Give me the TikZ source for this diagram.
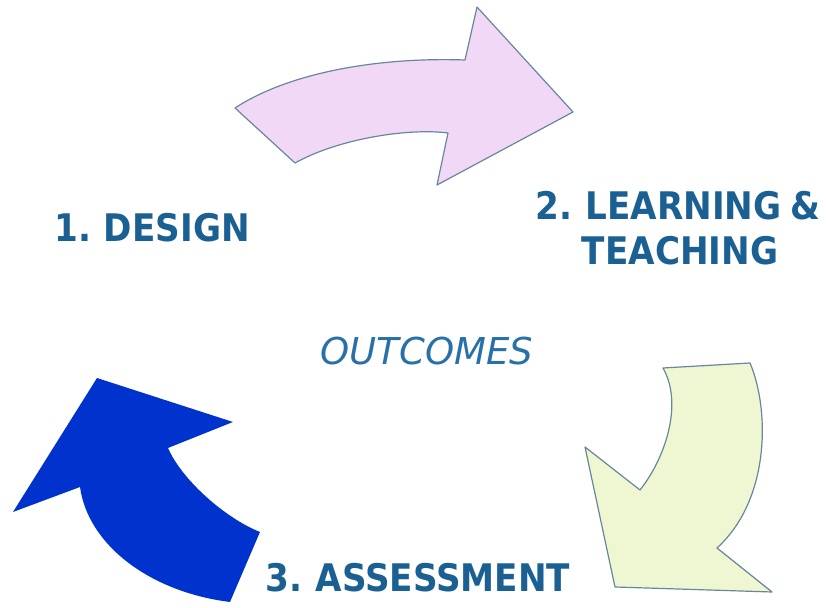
\documentclass[tikz,border=0pt]{standalone}
\usepackage{fontspec}
\setmainfont{DejaVu Sans}[FakeStretch=0.9,WordSpace=0.75]
\newfontfamily\outfont{DejaVu Sans}
\definecolor{steptext}{RGB}{26,96,146}
\definecolor{outtext}{RGB}{40,112,168}
\definecolor{pinkfill}{RGB}{240,216,246}
\definecolor{greenfill}{RGB}{238,247,210}
\definecolor{edgegray}{RGB}{105,135,155}
\definecolor{deepblue}{RGB}{0,50,205}
\begin{document}
\begin{tikzpicture}[x=0.5pt,y=-0.5pt,line width=0.6pt, line join=round, line cap=round,
		steplabel/.style={text=steptext,font=\fontsize{19}{22}\selectfont\bfseries,inner sep=0pt,anchor=base},
		outlabel/.style={text=outtext,font=\outfont\fontsize{18.5}{22}\selectfont\itshape,inner sep=0pt,anchor=base},
		paleshape/.style={draw=edgegray}]
				\useasboundingbox (0,0) rectangle (826,608);
				% arrow 1 -> 2
				\draw[paleshape,fill=pinkfill] (235,108) .. controls (290,72) and (380,57) .. (465,60) -- (477,7) -- (573,112) -- (437,185) -- (448,133) .. controls (410,128) and (340,138) .. (295,163) -- cycle;
				% arrow 2 -> 3
				\draw[paleshape,fill=greenfill] (663,368) -- (750,363) .. controls (770,410) and (770,500) .. (717,548) -- (772,592) -- (615,587) -- (585,447) -- (640,490) .. controls (664,460) and (684,405) .. (663,368) -- cycle;
				% arrow 3 -> 1
				\fill[deepblue] (97,378) -- (233,422) -- (168,448) .. controls (182,480) and (225,518) .. (260,532) -- (230,602) .. controls (150,592) and (88,545) .. (80,487) -- (13,512) -- cycle;
				\node[steplabel] (design) at (152,242) {1. DESIGN};
				\node[steplabel] (learning) at (678,220) {2. LEARNING \&};
				\node[steplabel] (teaching) at (680,265) {TEACHING};
				\node[steplabel] (assessment) at (418,592) {3. ASSESSMENT};
				\node[outlabel] (outcomes) at (427,365) {OUTCOMES};
			\end{tikzpicture}
\end{document}
